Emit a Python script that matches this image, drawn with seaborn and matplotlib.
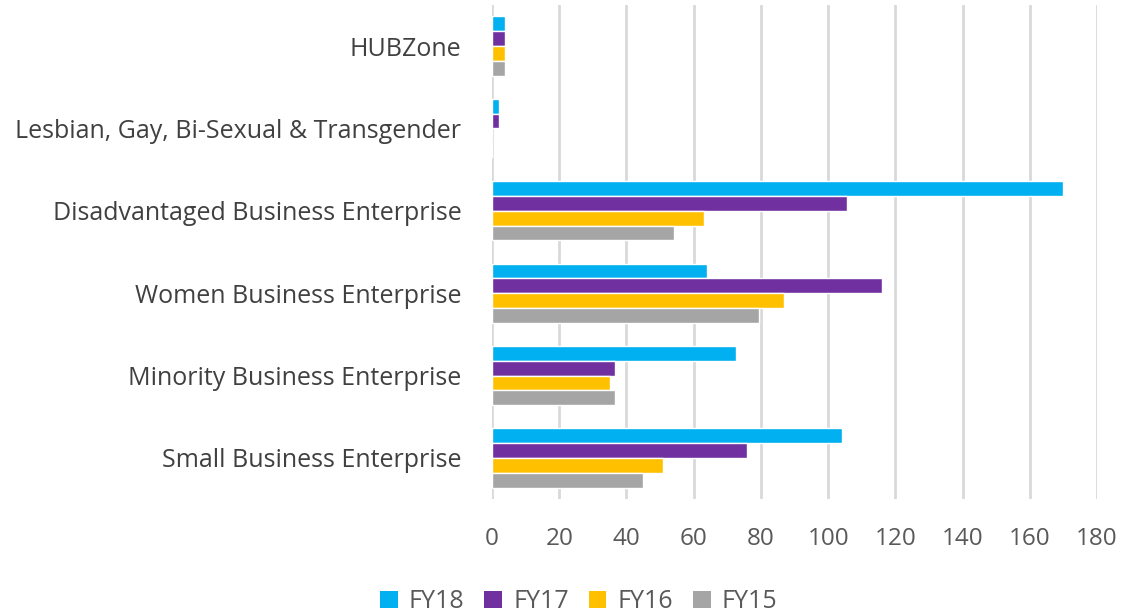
import matplotlib
matplotlib.use("Agg")
import matplotlib.pyplot as plt
import seaborn as sns
import pandas as pd
from matplotlib.patches import Patch

categories = ["HUBZone", "Lesbian, Gay, Bi-Sexual & Transgender",
              "Disadvantaged Business Enterprise", "Women Business Enterprise",
              "Minority Business Enterprise", "Small Business Enterprise"]
series = ["FY18", "FY17", "FY16", "FY15"]
fy18 = [4, 2, 170, 64, 72.5, 104]
fy17 = [4, 2, 105.5, 116, 36.5, 76]
fy16 = [4, 0, 63, 87, 35, 51]
fy15 = [4, 0, 54, 79.5, 36.5, 45]
xticks = [0, 20, 40, 60, 80, 100, 120, 140, 160, 180]
colors = ["#00B0F0", "#7030A0", "#FFC000", "#A5A5A5"]

rows = []
for name, vals in zip(series, [fy18, fy17, fy16, fy15]):
    for c, v in zip(categories, vals):
        rows.append({"category": c, "series": name, "value": v})
df = pd.DataFrame(rows)

sns.set_theme(style="white")
plt.rcParams["font.family"] = ["Open Sans", "DejaVu Sans"]

fig = plt.figure(figsize=(11.24, 6.14), dpi=100)
ax = fig.add_axes([492 / 1124, 1 - 499.2 / 614, (1097 - 492) / 1124, (499.2 - 4.8) / 614])

sns.barplot(data=df, y="category", x="value", hue="series", order=categories,
            hue_order=series, palette=colors, orient="h", width=0.72,
            saturation=1, ax=ax, legend=False, zorder=3)

ax.set_xlim(0, 180)
ax.set_xticks(xticks)
ax.set_xticklabels([str(t) for t in xticks], fontsize=17.5, color="#595959")
ax.tick_params(axis="x", length=0, pad=20)
ax.tick_params(axis="y", length=0, pad=22, labelsize=18, labelcolor="#404040")
ax.set_xlabel("")
ax.set_ylabel("")
ax.grid(axis="x", color="#D9D9D9", linewidth=2, zorder=0)
ax.set_axisbelow(True)
for s in ax.spines.values():
    s.set_visible(False)

handles = [Patch(facecolor=c, edgecolor="none") for c in colors]
fig.legend(handles, series, loc="lower center", bbox_to_anchor=(0.515, -0.037), ncol=4,
           frameon=False, fontsize=18, handlelength=0.7, handleheight=0.7,
           columnspacing=0.8, handletextpad=0.45, labelcolor="#595959")

fig.savefig("out.png", dpi=100)
